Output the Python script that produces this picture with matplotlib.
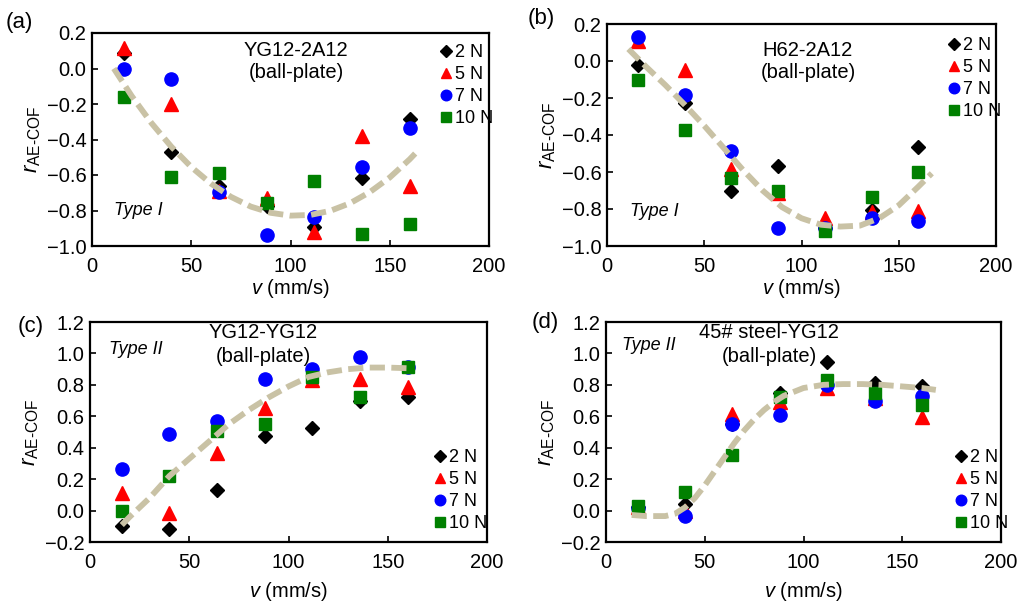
import matplotlib.pyplot as plt
import numpy as np

plt.rcParams['font.family'] = ['Liberation Sans', 'DejaVu Sans']
plt.rcParams['mathtext.fontset'] = 'custom'
plt.rcParams['mathtext.rm'] = 'Liberation Sans'
plt.rcParams['mathtext.it'] = 'Liberation Sans:italic'

v = [16, 40, 64, 88, 112, 136, 160]
loads = ['2 N', '5 N', '7 N', '10 N']

# (a) YG12-2A12
a_2N = [0.087, -0.468, -0.661, -0.772, -0.891, -0.618, -0.283]
a_5N = [0.118, -0.200, -0.690, -0.730, -0.920, -0.383, -0.661]
a_7N = [0.000, -0.058, -0.697, -0.938, -0.834, -0.556, -0.334]
a_10N = [-0.161, -0.609, -0.590, -0.760, -0.633, -0.934, -0.876]
a_fit_x = [11, 20, 30, 40, 50, 60, 70, 80, 90, 100, 110, 120, 130, 140, 150, 160, 163]
a_fit_y = [0.0, -0.155, -0.308, -0.441, -0.555, -0.649, -0.723, -0.778, -0.813,
           -0.829, -0.825, -0.802, -0.759, -0.696, -0.614, -0.512, -0.477]

# (b) H62-2A12
b_2N = [-0.022, -0.228, -0.700, -0.565, -0.900, -0.805, -0.464]
b_5N = [0.110, -0.051, -0.585, -0.715, -0.850, -0.814, -0.809]
b_7N = [0.128, -0.183, -0.484, -0.902, -0.900, -0.847, -0.865]
b_10N = [-0.101, -0.372, -0.634, -0.702, -0.919, -0.733, -0.598]
b_fit_x = [11, 20, 30, 40, 50, 60, 70, 80, 90, 100, 110, 120, 130, 140, 150, 160, 167]
b_fit_y = [0.065, -0.03, -0.13, -0.237, -0.35, -0.47, -0.59, -0.70, -0.79, -0.85,
           -0.885, -0.895, -0.89, -0.85, -0.78, -0.68, -0.607]

# (c) YG12-YG12
c_2N = [-0.096, -0.117, 0.131, 0.475, 0.528, 0.697, 0.721]
c_5N = [0.114, -0.018, 0.364, 0.655, 0.831, 0.837, 0.784]
c_7N = [0.264, 0.485, 0.572, 0.835, 0.899, 0.977, 0.915]
c_10N = [-0.001, 0.222, 0.506, 0.551, 0.850, 0.721, 0.916]
c_fit_x = [16, 20, 30, 40, 50, 60, 70, 80, 90, 100, 110, 120, 130, 140, 150, 162]
c_fit_y = [-0.092, -0.04, 0.08, 0.22, 0.33, 0.44, 0.55, 0.64, 0.72, 0.79, 0.85,
           0.88, 0.90, 0.91, 0.91, 0.905]

# (d) 45# steel-YG12
d_2N = [0.020, 0.042, 0.550, 0.750, 0.943, 0.810, 0.793]
d_5N = [0.020, 0.000, 0.612, 0.693, 0.778, 0.714, 0.593]
d_7N = [0.014, -0.035, 0.551, 0.608, 0.800, 0.700, 0.731]
d_10N = [0.031, 0.116, 0.354, 0.725, 0.831, 0.746, 0.670]
d_fit_x = [13, 20, 30, 35, 40, 45, 50, 55, 60, 65, 70, 75, 80, 85, 90, 100, 110,
           120, 130, 140, 150, 160, 167]
d_fit_y = [-0.028, -0.035, -0.035, -0.02, 0.02, 0.08, 0.16, 0.25, 0.34, 0.43, 0.51,
           0.58, 0.64, 0.69, 0.73, 0.78, 0.80, 0.805, 0.805, 0.80, 0.79, 0.78, 0.768]

W, H = 1022, 607
fig = plt.figure(figsize=(W / 100, H / 100), dpi=100)

def px(x, y):
    return x / W, 1 - y / H

panels = [
    dict(rect=(92, 33, 489, 246), data=(a_2N, a_5N, a_7N, a_10N), fx=a_fit_x, fy=a_fit_y,
         ylim=(-1.0, 0.2), yt=np.arange(-1.0, 0.21, 0.2), tag='(a)', tagpos=(6, 12),
         title=('YG12-2A12', '(ball-plate)'), tpos=(296, 50, 72),
         typ='Type I', typpos=(114, 210), leg=(432, 35), xlp=1),
    dict(rect=(607, 24, 996, 246), data=(b_2N, b_5N, b_7N, b_10N), fx=b_fit_x, fy=b_fit_y,
         ylim=(-1.0, 0.2), yt=np.arange(-1.0, 0.21, 0.2), tag='(b)', tagpos=(528, 8),
         title=('H62-2A12', '(ball-plate)'), tpos=(808, 50, 72),
         typ='Type I', typpos=(630, 212), leg=(940, 28), xlp=1),
    dict(rect=(90, 322, 487, 542), data=(c_2N, c_5N, c_7N, c_10N), fx=c_fit_x, fy=c_fit_y,
         ylim=(-0.2, 1.2), yt=np.arange(-0.2, 1.21, 0.2), tag='(c)', tagpos=(18, 316),
         title=('YG12-YG12', '(ball-plate)'), tpos=(263, 333, 357),
         typ='Type II', typpos=(109, 349), leg=(426, 440), xlp=6),
    dict(rect=(606, 322, 1001, 542), data=(d_2N, d_5N, d_7N, d_10N), fx=d_fit_x, fy=d_fit_y,
         ylim=(-0.2, 1.2), yt=np.arange(-0.2, 1.21, 0.2), tag='(d)', tagpos=(532, 312),
         title=('45# steel-YG12', '(ball-plate)'), tpos=(769, 333, 357),
         typ='Type II', typpos=(622, 346), leg=(947, 440), xlp=6),
]

markers = [('D', 'black', 7.5), ('^', 'red', 9.5), ('o', 'blue', 9.5), ('s', 'green', 8.5)]

def fmt(t):
    s = '%.1f' % abs(t)
    return ('\u2212' + s) if t < -1e-9 else s

for p in panels:
    x0, y0, x1, y1 = p['rect']
    ax = fig.add_axes([x0 / W, 1 - y1 / H, (x1 - x0) / W, (y1 - y0) / H])
    for ys, lab, (m, c, ms) in zip(p['data'], loads, markers):
        ax.plot(v, ys, linestyle='none', marker=m, color=c, markersize=ms, label=lab)
    ax.plot(p['fx'], p['fy'], color='#c9c2a5', lw=4.2, dashes=(2.6, 1.1), zorder=5)
    ax.set_xlim(0, 200)
    ax.set_ylim(*p['ylim'])
    ax.set_xticks([0, 50, 100, 150, 200])
    ax.set_yticks(p['yt'])
    ax.set_yticklabels([fmt(t) for t in p['yt']])
    ax.tick_params(direction='in', labelsize=14.5, width=1.2, length=4,
                   top=False, right=False)
    ax.tick_params(axis='x', pad=8)
    ax.tick_params(axis='y', pad=4)
    for s in ax.spines.values():
        s.set_linewidth(1.6)
    ax.set_xlabel('$\\it{v}$ (mm/s)', fontsize=14.5, labelpad=p['xlp'])
    ax.set_ylabel('$\\it{r}_{\\rm{AE\\text{-}COF}}$', fontsize=16, labelpad=3)
    ax.legend(loc='upper left', bbox_to_anchor=px(*p['leg']), bbox_transform=fig.transFigure,
              frameon=False, fontsize=13, handlelength=0.6, handletextpad=0.2,
              labelspacing=0.28, borderpad=0, markerscale=0.8)
    fig.text(*px(*p['tagpos']), p['tag'], fontsize=16, ha='left', va='top')
    tx, ty1, ty2 = p['tpos']
    fig.text(*px(tx, ty1), p['title'][0], fontsize=14.5, ha='center', va='center')
    fig.text(*px(tx, ty2), p['title'][1], fontsize=14.5, ha='center', va='center')
    fig.text(*px(*p['typpos']), p['typ'], fontsize=13, style='italic', ha='left', va='center')

fig.savefig('out.png', dpi=100)
